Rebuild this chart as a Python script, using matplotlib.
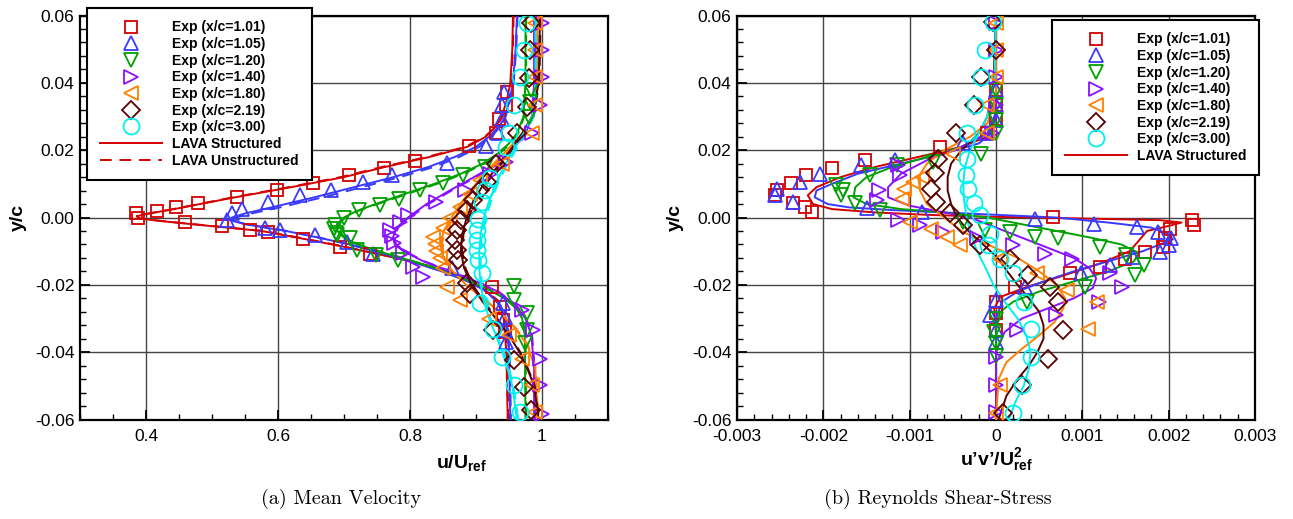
import matplotlib
matplotlib.use('Agg')
import matplotlib.pyplot as plt
from matplotlib.lines import Line2D
from matplotlib.ticker import MultipleLocator, FixedLocator, FixedFormatter

plt.rcParams['font.family'] = ['Liberation Sans', 'DejaVu Sans']
plt.rcParams['mathtext.fontset'] = 'custom'
plt.rcParams['mathtext.rm'] = 'Liberation Sans'
plt.rcParams['mathtext.bf'] = 'Liberation Sans:bold'
plt.rcParams['mathtext.it'] = 'Liberation Sans:italic'

# %%
stations = ['1.01', '1.05', '1.20', '1.40', '1.80', '2.19', '3.00']
colors = ['#d40000', '#3a3aff', '#00a000', '#8a10ff', '#ff8000', '#5a0000', '#00f0f0']
markers = ['s', '^', 'v', '>', '<', 'D', 'o']
msizes = [9, 10.5, 10.5, 10.5, 10.5, 9, 11.5]

# ---- mean velocity, experiment (y/c, u/Uref)
exp_u_101 = [(0.0373, 0.947), (0.0333, 0.945), (0.0294, 0.935), (0.0251, 0.931), (0.0212, 0.890),
             (0.0167, 0.808), (0.0146, 0.761), (0.0126, 0.707), (0.0103, 0.653), (0.0083, 0.598),
             (0.0061, 0.538), (0.0043, 0.479), (0.0032, 0.446), (0.0020, 0.416), (0.0013, 0.385),
             (-0.0002, 0.388), (-0.0013, 0.459), (-0.0026, 0.515), (-0.0036, 0.558), (-0.0043, 0.585),
             (-0.0065, 0.638), (-0.0087, 0.694), (-0.0107, 0.739), (-0.0206, 0.924), (-0.0265, 0.936),
             (-0.0305, 0.941), (-0.0340, 0.944)]
exp_u_105 = [(0.0373, 0.942), (0.0333, 0.940), (0.0294, 0.939), (0.0250, 0.934), (0.0212, 0.915),
             (0.0162, 0.856), (0.0126, 0.772), (0.0106, 0.729), (0.0083, 0.680), (0.0066, 0.633),
             (0.0046, 0.585), (0.0024, 0.546), (0.0014, 0.530), (-0.0008, 0.522), (-0.0030, 0.580),
             (-0.0038, 0.603), (-0.0053, 0.656), (-0.0072, 0.704), (-0.0107, 0.744), (-0.0151, 0.863),
             (-0.0255, 0.941), (-0.0295, 0.944), (-0.0335, 0.944), (-0.0370, 0.945)]
exp_u_120 = [(0.0378, 0.984), (0.0343, 0.982), (0.0300, 0.980), (0.0150, 0.914), (0.0126, 0.881),
             (0.0101, 0.850), (0.0081, 0.815), (0.0056, 0.784), (0.0037, 0.755), (0.0022, 0.722),
             (0.0000, 0.700), (-0.0023, 0.687), (-0.0035, 0.685), (-0.0045, 0.688), (-0.0053, 0.690),
             (-0.0062, 0.709), (-0.0097, 0.719), (-0.0112, 0.749), (-0.0127, 0.782), (-0.0204, 0.957),
             (-0.0246, 0.957), (-0.0285, 0.977), (-0.0333, 0.977), (-0.0374, 0.974)]
exp_u_140 = [(0.0578, 1.000), (0.0497, 1.000), (0.0418, 1.000), (0.0333, 0.997), (0.0250, 0.985),
             (0.0165, 0.945), (0.0130, 0.921), (0.0081, 0.883), (0.0046, 0.840), (0.0007, 0.797),
             (-0.0013, 0.785), (-0.0038, 0.770), (-0.0055, 0.772), (-0.0077, 0.775), (-0.0105, 0.790),
             (-0.0147, 0.805), (-0.0176, 0.820), (-0.0275, 0.969), (-0.0335, 0.987), (-0.0419, 0.997),
             (-0.0498, 0.997), (-0.0584, 1.000)]
exp_u_180 = [(0.0578, 0.990), (0.0497, 0.990), (0.0418, 0.990), (0.0333, 0.990), (0.0250, 0.985),
             (0.0160, 0.940), (0.0110, 0.906), (0.0071, 0.891), (0.0031, 0.876), (0.0000, 0.860),
             (-0.0030, 0.850), (-0.0058, 0.835), (-0.0080, 0.838), (-0.0100, 0.840), (-0.0120, 0.845),
             (-0.0150, 0.850), (-0.0206, 0.856), (-0.0246, 0.876), (-0.0300, 0.920), (-0.0350, 0.950),
             (-0.0419, 0.970), (-0.0498, 0.985), (-0.0577, 0.990)]
exp_u_219 = [(0.0578, 0.984), (0.0497, 0.982), (0.0413, 0.980), (0.0328, 0.977), (0.0250, 0.962),
             (0.0160, 0.931), (0.0106, 0.916), (0.0081, 0.906), (0.0051, 0.896), (0.0022, 0.886),
             (-0.0008, 0.878), (-0.0038, 0.871), (-0.0067, 0.868), (-0.0097, 0.871), (-0.0127, 0.872),
             (-0.0196, 0.886), (-0.0226, 0.891), (-0.0335, 0.926), (-0.0424, 0.957), (-0.0503, 0.972),
             (-0.0572, 0.984)]
exp_u_300 = [(0.0578, 0.977), (0.0499, 0.972), (0.0418, 0.967), (0.0333, 0.958), (0.0250, 0.950),
             (0.0210, 0.945), (0.0116, 0.921), (0.0081, 0.914), (0.0046, 0.909), (-0.0003, 0.903),
             (-0.0038, 0.902), (-0.0067, 0.902), (-0.0097, 0.902), (-0.0127, 0.903), (-0.0166, 0.909),
             (-0.0255, 0.906), (-0.0330, 0.926), (-0.0414, 0.939), (-0.0498, 0.957), (-0.0577, 0.967)]

# ---- mean velocity, LAVA structured (y/c, u/Uref)
lava_u_101 = [(0.06, 0.956), (0.05, 0.955), (0.04, 0.952), (0.035, 0.947), (0.03, 0.939), (0.027, 0.930),
              (0.024, 0.915), (0.021, 0.887), (0.018, 0.830), (0.015, 0.762), (0.012, 0.700), (0.009, 0.620),
              (0.006, 0.535), (0.004, 0.482), (0.0025, 0.443), (0.0012, 0.405), (0.0004, 0.386),
              (-0.0003, 0.390), (-0.001, 0.420), (-0.002, 0.470), (-0.004, 0.575), (-0.0065, 0.643),
              (-0.0087, 0.700), (-0.0107, 0.747), (-0.0125, 0.790), (-0.0145, 0.830), (-0.017, 0.867),
              (-0.0206, 0.906), (-0.0246, 0.932), (-0.03, 0.942), (-0.04, 0.946), (-0.06, 0.948)]
lava_u_105 = [(0.06, 0.962), (0.05, 0.960), (0.04, 0.956), (0.035, 0.951), (0.03, 0.944), (0.027, 0.935),
              (0.024, 0.920), (0.021, 0.900), (0.018, 0.868), (0.015, 0.828), (0.012, 0.775), (0.009, 0.715),
              (0.006, 0.655), (0.003, 0.590), (0.0012, 0.550), (0.0, 0.530), (-0.0008, 0.527),
              (-0.002, 0.550), (-0.004, 0.612), (-0.006, 0.662), (-0.008, 0.708), (-0.0105, 0.755),
              (-0.013, 0.800), (-0.016, 0.848), (-0.019, 0.888), (-0.022, 0.916), (-0.026, 0.936),
              (-0.03, 0.945), (-0.04, 0.950), (-0.06, 0.952)]
lava_u_120 = [(0.06, 0.975), (0.04, 0.975), (0.03, 0.972), (0.025, 0.962), (0.022, 0.950), (0.019, 0.933),
              (0.016, 0.910), (0.013, 0.877), (0.01, 0.837), (0.007, 0.792), (0.004, 0.748), (0.002, 0.720),
              (0.0, 0.700), (-0.002, 0.689), (-0.004, 0.690), (-0.006, 0.700), (-0.008, 0.720),
              (-0.01, 0.752), (-0.012, 0.787), (-0.015, 0.838), (-0.018, 0.880), (-0.021, 0.915),
              (-0.024, 0.943), (-0.027, 0.961), (-0.03, 0.970), (-0.035, 0.974), (-0.06, 0.975)]
lava_u_140 = [(0.06, 0.988), (0.04, 0.988), (0.03, 0.985), (0.025, 0.975), (0.02, 0.955), (0.016, 0.932),
              (0.012, 0.897), (0.008, 0.860), (0.004, 0.825), (0.0, 0.797), (-0.003, 0.780), (-0.006, 0.774),
              (-0.008, 0.777), (-0.01, 0.790), (-0.013, 0.820), (-0.016, 0.860), (-0.019, 0.900),
              (-0.022, 0.933), (-0.026, 0.960), (-0.03, 0.975), (-0.035, 0.984), (-0.045, 0.988), (-0.06, 0.988)]
lava_u_180 = [(0.06, 0.993), (0.04, 0.992), (0.03, 0.985), (0.025, 0.970), (0.02, 0.947), (0.015, 0.922),
              (0.01, 0.900), (0.005, 0.880), (0.0, 0.863), (-0.004, 0.851), (-0.008, 0.846), (-0.012, 0.850),
              (-0.016, 0.865), (-0.02, 0.885), (-0.024, 0.910), (-0.028, 0.935), (-0.033, 0.960),
              (-0.038, 0.978), (-0.045, 0.990), (-0.06, 0.993)]
lava_u_219 = [(0.06, 0.997), (0.04, 0.995), (0.03, 0.985), (0.025, 0.970), (0.02, 0.952), (0.015, 0.932),
              (0.01, 0.912), (0.005, 0.896), (0.0, 0.886), (-0.005, 0.879), (-0.01, 0.877), (-0.015, 0.882),
              (-0.02, 0.893), (-0.025, 0.910), (-0.03, 0.930), (-0.035, 0.950), (-0.04, 0.966),
              (-0.045, 0.978), (-0.05, 0.988), (-0.06, 0.995)]
lava_u_300 = [(0.06, 0.990), (0.04, 0.990), (0.03, 0.985), (0.025, 0.972), (0.02, 0.957), (0.015, 0.942),
              (0.01, 0.930), (0.005, 0.920), (0.0, 0.912), (-0.005, 0.907), (-0.01, 0.905), (-0.015, 0.905),
              (-0.02, 0.907), (-0.025, 0.912), (-0.03, 0.920), (-0.035, 0.930), (-0.04, 0.940),
              (-0.045, 0.948), (-0.05, 0.955), (-0.06, 0.962)]

# ---- mean velocity, LAVA unstructured (y/c, u/Uref)
uns_u_101 = [(0.06, 0.957), (0.05, 0.956), (0.04, 0.953), (0.035, 0.948), (0.03, 0.940), (0.027, 0.931),
             (0.024, 0.913), (0.021, 0.884), (0.018, 0.826), (0.015, 0.757), (0.012, 0.695), (0.009, 0.616),
             (0.006, 0.532), (0.004, 0.480), (0.0025, 0.441), (0.0012, 0.404), (0.0004, 0.386),
             (-0.0003, 0.391), (-0.001, 0.422), (-0.002, 0.473), (-0.004, 0.578), (-0.0065, 0.646),
             (-0.0087, 0.702), (-0.0107, 0.749), (-0.0125, 0.792), (-0.0145, 0.832), (-0.017, 0.869),
             (-0.0206, 0.907), (-0.0246, 0.933), (-0.03, 0.943), (-0.04, 0.947), (-0.06, 0.949)]
uns_u_105 = [(0.06, 0.963), (0.05, 0.961), (0.04, 0.957), (0.035, 0.952), (0.03, 0.945), (0.027, 0.937),
             (0.024, 0.923), (0.021, 0.905), (0.018, 0.875), (0.015, 0.836), (0.012, 0.785), (0.009, 0.727),
             (0.006, 0.668), (0.003, 0.603), (0.0012, 0.560), (0.0, 0.535), (-0.0008, 0.530),
             (-0.002, 0.552), (-0.004, 0.613), (-0.006, 0.663), (-0.008, 0.709), (-0.0105, 0.756),
             (-0.013, 0.801), (-0.016, 0.849), (-0.019, 0.889), (-0.022, 0.917), (-0.026, 0.937),
             (-0.03, 0.946), (-0.04, 0.951), (-0.06, 0.953)]
uns_u_120 = [(0.06, 0.976), (0.04, 0.976), (0.03, 0.973), (0.025, 0.964), (0.022, 0.952), (0.019, 0.936),
             (0.016, 0.913), (0.013, 0.881), (0.01, 0.841), (0.007, 0.796), (0.004, 0.751), (0.002, 0.722),
             (0.0, 0.702), (-0.002, 0.691), (-0.004, 0.692), (-0.006, 0.702), (-0.008, 0.722),
             (-0.01, 0.754), (-0.012, 0.789), (-0.015, 0.839), (-0.018, 0.881), (-0.021, 0.916),
             (-0.024, 0.944), (-0.027, 0.962), (-0.03, 0.971), (-0.035, 0.975), (-0.06, 0.976)]
uns_u_140 = [(0.06, 0.989), (0.04, 0.989), (0.03, 0.986), (0.025, 0.977), (0.02, 0.958), (0.016, 0.935),
             (0.012, 0.900), (0.008, 0.863), (0.004, 0.828), (0.0, 0.800), (-0.003, 0.782), (-0.006, 0.776),
             (-0.008, 0.779), (-0.01, 0.792), (-0.013, 0.822), (-0.016, 0.862), (-0.019, 0.902),
             (-0.022, 0.934), (-0.026, 0.961), (-0.03, 0.976), (-0.035, 0.985), (-0.045, 0.989), (-0.06, 0.989)]
uns_u_180 = [(0.06, 0.994), (0.04, 0.993), (0.03, 0.987), (0.025, 0.973), (0.02, 0.950), (0.015, 0.925),
             (0.01, 0.903), (0.005, 0.883), (0.0, 0.866), (-0.004, 0.853), (-0.008, 0.848), (-0.012, 0.852),
             (-0.016, 0.866), (-0.02, 0.886), (-0.024, 0.911), (-0.028, 0.936), (-0.033, 0.961),
             (-0.038, 0.979), (-0.045, 0.991), (-0.06, 0.994)]
uns_u_219 = [(0.06, 0.998), (0.04, 0.996), (0.03, 0.987), (0.025, 0.973), (0.02, 0.955), (0.015, 0.935),
             (0.01, 0.915), (0.005, 0.899), (0.0, 0.889), (-0.005, 0.881), (-0.01, 0.879), (-0.015, 0.884),
             (-0.02, 0.895), (-0.025, 0.912), (-0.03, 0.932), (-0.035, 0.952), (-0.04, 0.967),
             (-0.045, 0.979), (-0.05, 0.989), (-0.06, 0.996)]
uns_u_300 = [(0.06, 0.991), (0.04, 0.991), (0.03, 0.987), (0.025, 0.975), (0.02, 0.960), (0.015, 0.945),
             (0.01, 0.933), (0.005, 0.923), (0.0, 0.915), (-0.005, 0.909), (-0.01, 0.907), (-0.015, 0.907),
             (-0.02, 0.909), (-0.025, 0.914), (-0.03, 0.922), (-0.035, 0.932), (-0.04, 0.942),
             (-0.045, 0.950), (-0.05, 0.957), (-0.06, 0.964)]

# ---- Reynolds shear stress, experiment (y/c, u'v'/Uref^2)
exp_uv_101 = [(0.0378, 0.0), (0.0333, 0.0), (0.0294, 0.0), (0.0250, -0.0001), (0.0210, -0.00065),
              (0.0170, -0.00152), (0.0146, -0.0019), (0.0126, -0.0022), (0.0101, -0.00237), (0.0081, -0.00254),
              (0.0066, -0.00256), (0.0042, -0.00235), (0.0031, -0.00221), (0.0017, -0.00213), (0.0002, 0.00066),
              (-0.0008, 0.00227), (-0.0023, 0.00229), (-0.0033, 0.00202), (-0.0062, 0.00196), (-0.0087, 0.00194),
              (-0.0102, 0.00173), (-0.0122, 0.00149), (-0.0147, 0.0012), (-0.0166, 0.00086), (-0.0206, 0.00022),
              (-0.0250, 0.0), (-0.0285, 0.0), (-0.0335, 0.0)]
exp_uv_105 = [(0.0378, 0.0), (0.0333, 0.0), (0.0290, 0.0), (0.0250, -0.0001), (0.0220, -0.00038),
              (0.0172, -0.00117), (0.0155, -0.00156), (0.0129, -0.00204), (0.0106, -0.00227), (0.0086, -0.00254),
              (0.0066, -0.00256), (0.0046, -0.00235), (0.0027, -0.0015), (0.0017, -0.00086), (-0.0003, 0.00045),
              (-0.0018, 0.00113), (-0.0028, 0.00163), (-0.0043, 0.00188), (-0.0062, 0.00203), (-0.0082, 0.0020),
              (-0.0102, 0.0019), (-0.0117, 0.00159), (-0.0142, 0.00132), (-0.0166, 0.00099), (-0.0206, 0.00034),
              (-0.0246, 0.0), (-0.0290, -0.00007), (-0.0335, 0.0), (-0.0370, 0.0)]
exp_uv_120 = [(0.0378, 0.0), (0.0333, 0.0), (0.0290, 0.0), (0.0250, 0.0), (0.0190, -0.00017),
              (0.0165, -0.00073), (0.0155, -0.00115), (0.0126, -0.00146), (0.0096, -0.00185), (0.0081, -0.00177),
              (0.0066, -0.00180), (0.0042, -0.00163), (0.0022, -0.00134), (-0.0013, -0.00038), (-0.0038, -0.00013),
              (-0.0043, 0.00016), (-0.0058, 0.00045), (-0.0062, 0.00072), (-0.0087, 0.0012), (-0.0112, 0.00151),
              (-0.0142, 0.00171), (-0.0171, 0.00161), (-0.0206, 0.00103), (-0.0250, 0.00036), (-0.0300, 0.0),
              (-0.0340, -0.00002), (-0.0374, 0.0), (-0.0410, 0.0)]
exp_uv_140 = [(0.0578, 0.0), (0.0497, 0.0), (0.0418, 0.0), (0.0333, 0.0), (0.0250, -0.00005),
              (0.0155, -0.00113), (0.0126, -0.00111), (0.0081, -0.00136), (0.0051, -0.00138), (-0.0008, -0.00113),
              (-0.0023, -0.00088), (-0.0043, -0.00061), (-0.0062, -0.00022), (-0.0082, 0.0002), (-0.0107, 0.00057),
              (-0.0122, 0.00088), (-0.0166, 0.00132), (-0.0206, 0.00146), (-0.0250, 0.00119), (-0.0290, 0.0007),
              (-0.0335, 0.00024), (-0.0414, 0.0), (-0.0498, 0.0), (-0.0577, 0.0)]
exp_uv_180 = [(0.0578, 0.0), (0.0497, 0.0), (0.0418, 0.0), (0.0333, -0.0001), (0.0250, -0.0001),
              (0.0190, -0.0005), (0.0120, -0.00086), (0.0106, -0.00096), (0.0086, -0.00107), (0.0056, -0.00109),
              (-0.0013, -0.0010), (-0.0033, -0.00075), (-0.0058, -0.00057), (-0.0082, -0.00042),
              (-0.0122, 0.00005), (-0.0166, 0.00047), (-0.0216, 0.00082), (-0.0250, 0.00117), (-0.0330, 0.00107),
              (-0.0498, 0.00005), (-0.0580, 0.0)]
exp_uv_219 = [(0.0580, -0.00003), (0.0499, 0.0), (0.0418, -0.00017), (0.0333, -0.00026), (0.0250, -0.00046),
              (0.0175, -0.00067), (0.0131, -0.00071), (0.0086, -0.00075), (0.0046, -0.00069), (0.0012, -0.00053),
              (-0.0023, -0.00038), (-0.0082, -0.00019), (-0.0122, 0.00016), (-0.0171, 0.00037), (-0.0206, 0.00063),
              (-0.0250, 0.00072), (-0.0335, 0.00078), (-0.0419, 0.0006), (-0.0498, 0.0003), (-0.0580, 0.00008)]
exp_uv_300 = [(0.0580, -0.00003), (0.0499, -0.00013), (0.0418, -0.00017), (0.0333, -0.00024), (0.0250, -0.00034),
              (0.0175, -0.00034), (0.0125, -0.00035), (0.0086, -0.00032), (0.0042, -0.00025), (0.0007, -0.00019),
              (-0.0048, -0.00007), (-0.0082, -0.00009), (-0.0122, 0.00005), (-0.0166, 0.0002), (-0.0250, 0.00032),
              (-0.0330, 0.0004), (-0.0414, 0.0004), (-0.0498, 0.0003), (-0.0580, 0.0002)]

# ---- Reynolds shear stress, LAVA structured (y/c, u'v'/Uref^2)
lava_uv_101 = [(0.06, 0.0), (0.035, 0.0), (0.028, -0.00002), (0.024, -0.0001), (0.021, -0.0004), (0.018, -0.0009),
               (0.015, -0.0014), (0.012, -0.0018), (0.009, -0.00208), (0.0066, -0.00218), (0.004, -0.00212),
               (0.0025, -0.0019), (0.0015, -0.0014), (0.0008, -0.0008), (0.0003, -0.0002), (0.0, 0.0004),
               (-0.0004, 0.0012), (-0.0008, 0.0019), (-0.0015, 0.00215), (-0.0025, 0.0020), (-0.004, 0.00175),
               (-0.007, 0.00165), (-0.01, 0.00155), (-0.0137, 0.0012), (-0.0176, 0.00074), (-0.0206, 0.00036),
               (-0.0236, 0.00005), (-0.027, -0.00002), (-0.035, 0.0), (-0.06, 0.0)]
lava_uv_105 = [(0.06, 0.0), (0.03, 0.0), (0.025, -0.00005), (0.022, -0.0002), (0.019, -0.0006), (0.016, -0.0011),
               (0.013, -0.0016), (0.01, -0.0019), (0.008, -0.00208), (0.006, -0.0021), (0.004, -0.00195),
               (0.003, -0.0017), (0.0022, -0.0012), (0.0015, -0.0006), (0.0008, 0.0), (0.0, 0.0007),
               (-0.0015, 0.0013), (-0.003, 0.0018), (-0.005, 0.0020), (-0.0065, 0.00205), (-0.008, 0.0019),
               (-0.01, 0.0017), (-0.013, 0.0013), (-0.016, 0.0009), (-0.019, 0.00055), (-0.022, 0.00025),
               (-0.025, 0.00007), (-0.03, 0.0), (-0.06, 0.0)]
lava_uv_120 = [(0.06, 0.0), (0.03, 0.0), (0.025, -0.0001), (0.021, -0.0004), (0.018, -0.0008), (0.015, -0.0012),
               (0.012, -0.0015), (0.009, -0.00163), (0.006, -0.00165), (0.004, -0.0015), (0.0025, -0.0011),
               (0.0015, -0.0006), (0.0, -0.0001), (-0.002, 0.0003), (-0.004, 0.0007), (-0.006, 0.0011),
               (-0.008, 0.00145), (-0.0105, 0.00165), (-0.013, 0.0016), (-0.016, 0.0013), (-0.019, 0.0009),
               (-0.022, 0.0005), (-0.025, 0.0002), (-0.028, 0.00005), (-0.032, 0.0), (-0.06, 0.0)]
lava_uv_140 = [(0.06, 0.0), (0.03, 0.0), (0.025, -0.0001), (0.021, -0.0004), (0.017, -0.0008), (0.013, -0.0011),
               (0.009, -0.00125), (0.006, -0.00125), (0.0035, -0.001), (0.0015, -0.0006), (0.0, -0.0003),
               (-0.003, 0.0), (-0.006, 0.0003), (-0.009, 0.0006), (-0.012, 0.0009), (-0.015, 0.00108),
               (-0.018, 0.00116), (-0.021, 0.00112), (-0.024, 0.0009), (-0.027, 0.0006), (-0.03, 0.0003),
               (-0.034, 0.0001), (-0.04, 0.0), (-0.06, 0.0)]
lava_uv_180 = [(0.06, 0.0), (0.035, 0.0), (0.028, -0.0001), (0.024, -0.0003), (0.02, -0.0006), (0.016, -0.0008),
               (0.012, -0.0009), (0.008, -0.00088), (0.004, -0.0008), (0.0, -0.0006), (-0.004, -0.0004),
               (-0.008, -0.0001), (-0.012, 0.00025), (-0.016, 0.0005), (-0.02, 0.0007), (-0.024, 0.0008),
               (-0.027, 0.00078), (-0.031, 0.00068), (-0.035, 0.0005), (-0.039, 0.0003), (-0.043, 0.00012),
               (-0.048, 0.00003), (-0.06, 0.0)]
lava_uv_219 = [(0.06, 0.0), (0.04, -0.00003), (0.03, -0.0001), (0.025, -0.0002), (0.02, -0.0004), (0.016, -0.00052),
               (0.012, -0.00056), (0.008, -0.00056), (0.004, -0.00052), (0.0, -0.00045), (-0.004, -0.00032),
               (-0.008, -0.00015), (-0.012, 0.00002), (-0.016, 0.00013), (-0.02, 0.00025), (-0.024, 0.00038),
               (-0.028, 0.0005), (-0.032, 0.00055), (-0.036, 0.00055), (-0.04, 0.00048), (-0.044, 0.00038),
               (-0.048, 0.00025), (-0.053, 0.00012), (-0.06, 0.00003)]
lava_uv_300 = [(0.06, 0.0), (0.04, -0.00002), (0.03, -0.0001), (0.025, -0.0002), (0.02, -0.0003), (0.015, -0.00036),
               (0.01, -0.00038), (0.005, -0.00037), (0.0, -0.00034), (-0.005, -0.00029), (-0.01, -0.00022),
               (-0.015, -0.00012), (-0.02, -0.00003), (-0.025, 0.0001), (-0.03, 0.00025), (-0.035, 0.00035),
               (-0.04, 0.0004), (-0.045, 0.00038), (-0.05, 0.00032), (-0.055, 0.00022), (-0.06, 0.00015)]

exp_u = [exp_u_101, exp_u_105, exp_u_120, exp_u_140, exp_u_180, exp_u_219, exp_u_300]
lava_u = [lava_u_101, lava_u_105, lava_u_120, lava_u_140, lava_u_180, lava_u_219, lava_u_300]
uns_u = [uns_u_101, uns_u_105, uns_u_120, uns_u_140, uns_u_180, uns_u_219, uns_u_300]
exp_uv = [exp_uv_101, exp_uv_105, exp_uv_120, exp_uv_140, exp_uv_180, exp_uv_219, exp_uv_300]
lava_uv = [lava_uv_101, lava_uv_105, lava_uv_120, lava_uv_140, lava_uv_180, lava_uv_219, lava_uv_300]

u_ticks = [0.4, 0.6, 0.8, 1.0]
u_ticklabels = ['0.4', '0.6', '0.8', '1']
uv_ticks = [-0.003, -0.002, -0.001, 0.0, 0.001, 0.002, 0.003]
uv_ticklabels = ['-0.003', '-0.002', '-0.001', '0', '0.001', '0.002', '0.003']
y_ticks = [-0.06, -0.04, -0.02, 0.0, 0.02, 0.04, 0.06]
y_ticklabels = ['-0.06', '-0.04', '-0.02', '0.00', '0.02', '0.04', '0.06']


def xy(pairs):
    return [p[1] for p in pairs], [p[0] for p in pairs]


# %%
W, H = 1293, 519
fig = plt.figure(figsize=(W / 100, H / 100), dpi=100)
ax1 = fig.add_axes([80 / W, 1 - 419.5 / H, 528 / W, 404 / H])
ax2 = fig.add_axes([737 / W, 1 - 419.5 / H, 518 / W, 404 / H])

for i in range(7):
    x, y = xy(lava_u[i])
    ax1.plot(x, y, '-', color=colors[i], lw=1.4, zorder=3)
    x, y = xy(uns_u[i])
    ax1.plot(x, y, color=colors[i], lw=1.4, dashes=(6, 4), zorder=3)
    x, y = xy(lava_uv[i])
    ax2.plot(x, y, '-', color=colors[i], lw=1.4, zorder=3)

for i in range(7):
    x, y = xy(exp_u[i])
    ax1.plot(x, y, ls='none', marker=markers[i], ms=msizes[i], mfc='none',
             mec=colors[i], mew=1.3, zorder=4)
    x, y = xy(exp_uv[i])
    ax2.plot(x, y, ls='none', marker=markers[i], ms=msizes[i], mfc='none',
             mec=colors[i], mew=1.3, zorder=4)

for ax, xt, xtl, xlim, xminor in [(ax1, u_ticks, u_ticklabels, (0.3, 1.1), 0.05),
                                  (ax2, uv_ticks, uv_ticklabels, (-0.003, 0.003), 0.0002)]:
    ax.set_xlim(*xlim)
    ax.set_ylim(-0.06, 0.06)
    ax.xaxis.set_major_locator(FixedLocator(xt))
    ax.xaxis.set_major_formatter(FixedFormatter(xtl))
    ax.xaxis.set_minor_locator(MultipleLocator(xminor))
    ax.yaxis.set_major_locator(FixedLocator(y_ticks))
    ax.yaxis.set_major_formatter(FixedFormatter(y_ticklabels))
    ax.yaxis.set_minor_locator(MultipleLocator(0.004))
    ax.grid(True, which='major', color='#444444', lw=1.0, zorder=0)
    ax.set_axisbelow(True)
    ax.tick_params(which='major', direction='in', length=7, width=1.3, labelsize=12.5,
                   top=False, right=False, pad=4)
    ax.tick_params(which='minor', direction='in', length=4, width=1.0, top=False, right=False)
    ax.tick_params(axis='x', which='major', pad=7)
    for s in ax.spines.values():
        s.set_linewidth(1.6)

fig.text(18 / W, 1 - 217 / H, 'y/c', rotation=90, ha='center', va='center',
         fontsize=14, fontweight='bold')
fig.text(675 / W, 1 - 217 / H, 'y/c', rotation=90, ha='center', va='center',
         fontsize=14, fontweight='bold')
fig.text(462 / W, 1 - 463 / H, r'u/U$_{\mathbf{ref}}$', ha='center', va='center',
         fontsize=14, fontweight='bold')
fig.text(996 / W, 1 - 460 / H, r'u’v’/U$_{\mathbf{ref}}^{\mathbf{2}}$', ha='center', va='center',
         fontsize=14, fontweight='bold')

fig.text(341 / W, 1 - 499 / H, '(a) Mean Velocity', ha='center', va='center',
         fontsize=14.5, family='cmr10')
fig.text(938 / W, 1 - 499 / H, '(b) Reynolds Shear-Stress', ha='center', va='center',
         fontsize=14.5, family='cmr10')

handles = [Line2D([], [], ls='none', marker=markers[i], ms=msizes[i], mfc='none',
                  mec=colors[i], mew=1.3) for i in range(7)]
labels = ['Exp (x/c=%s)' % s for s in stations]
h_s = Line2D([], [], color=colors[0], lw=1.4)
h_u = Line2D([], [], color=colors[0], lw=1.4, dashes=(6, 4))

leg_kw = dict(loc='upper left', bbox_transform=fig.transFigure, borderaxespad=0,
              fancybox=False, framealpha=1, edgecolor='black', handlelength=4.5,
              handletextpad=0.75, labelspacing=0.19, borderpad=0.9,
              prop={'weight': 'bold', 'size': 10})
leg1 = ax1.legend(handles + [h_s, h_u], labels + ['LAVA Structured', 'LAVA Unstructured'],
                  bbox_to_anchor=(87 / W, 1 - 8 / H), **leg_kw)
leg1.get_frame().set_linewidth(1.5)
leg1.set_zorder(10)
leg2 = ax2.legend(handles + [h_s], labels + ['LAVA Structured'],
                  bbox_to_anchor=(1052 / W, 1 - 20 / H), **leg_kw)
leg2.get_frame().set_linewidth(1.5)
leg2.set_zorder(10)

fig.savefig('out.png', dpi=100)
